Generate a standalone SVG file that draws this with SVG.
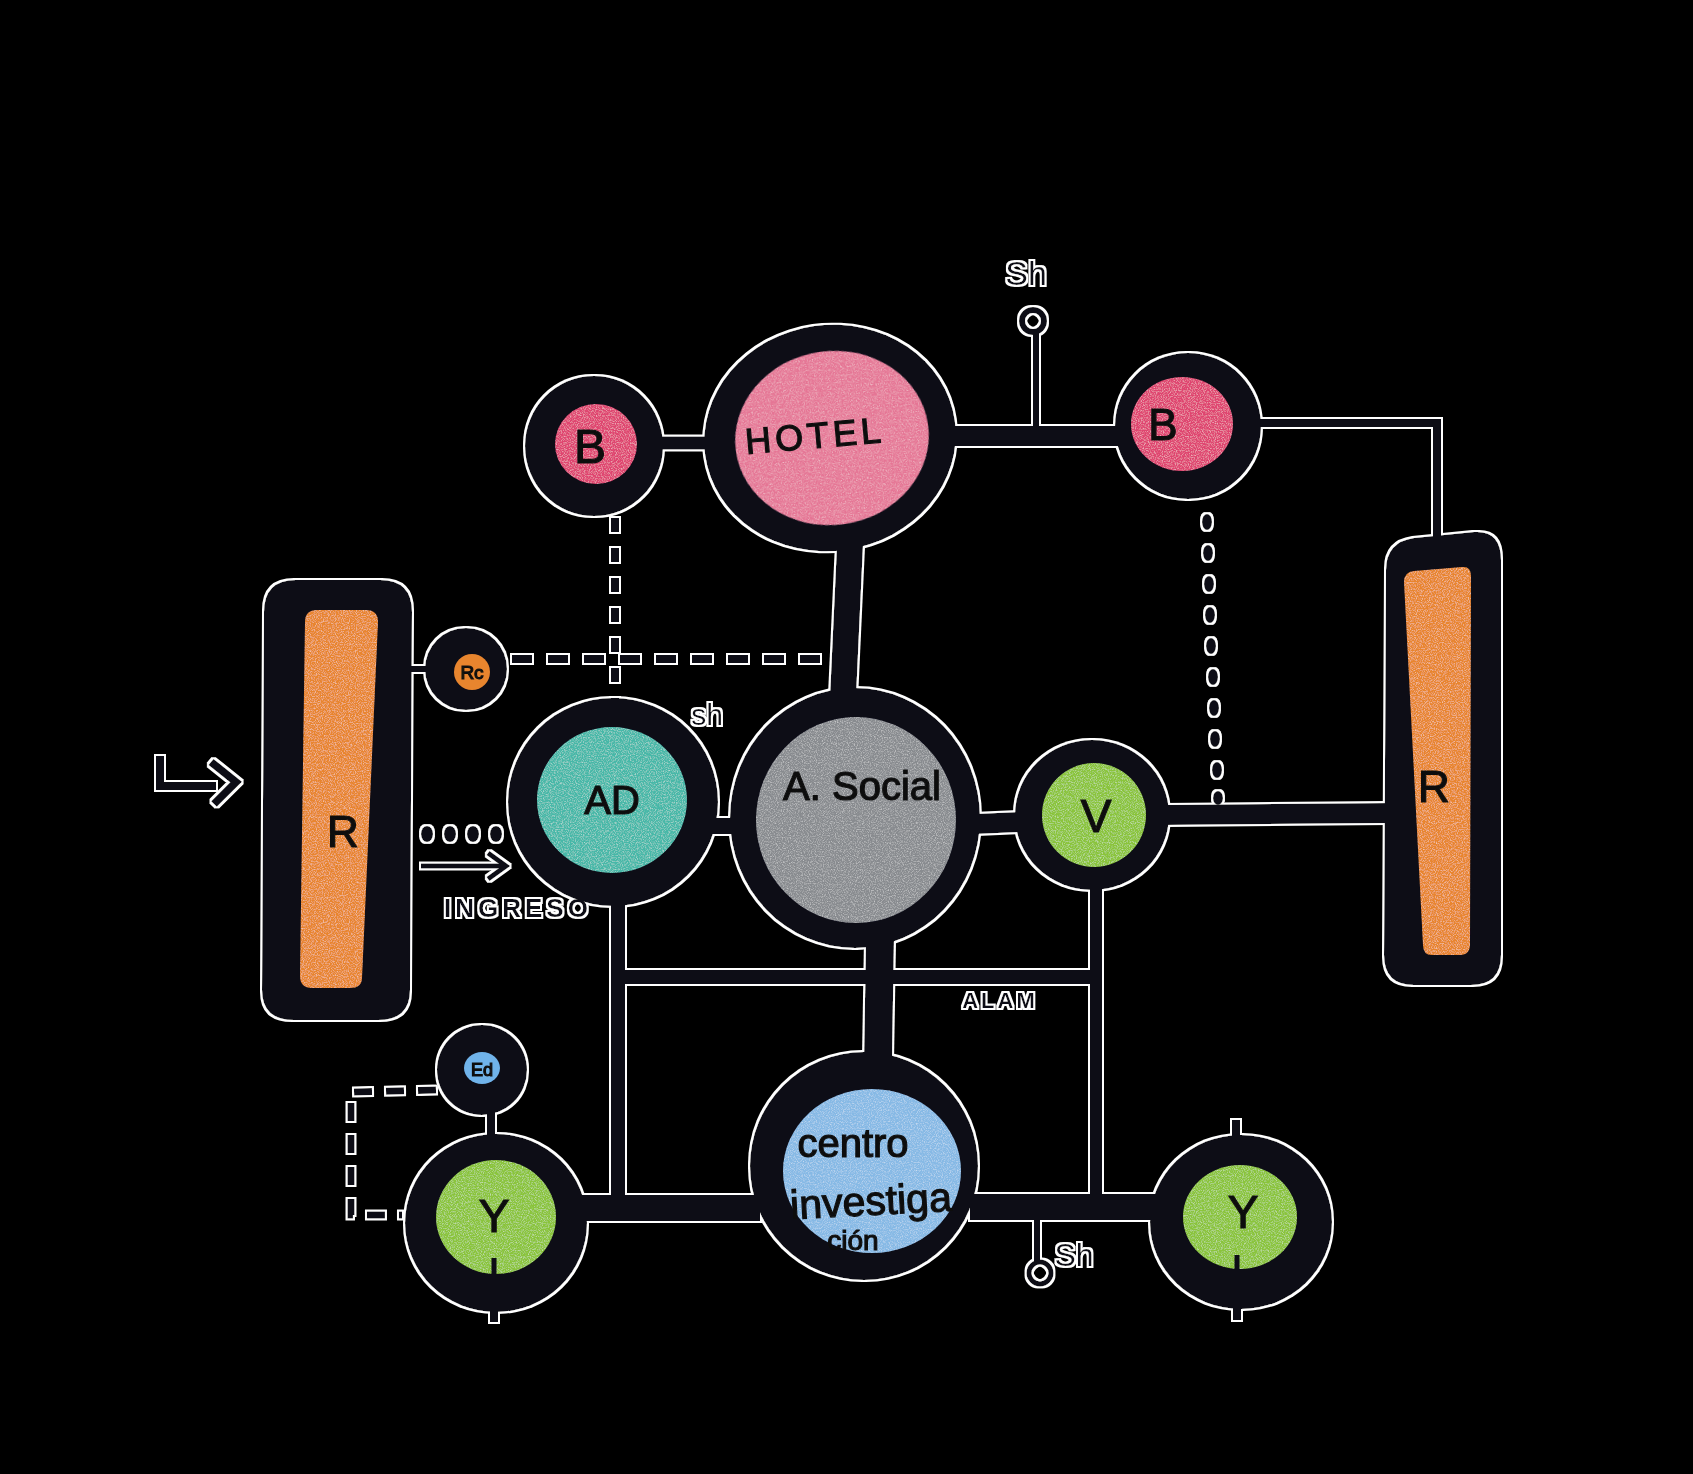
<svg xmlns="http://www.w3.org/2000/svg" width="1693" height="1474" viewBox="0 0 1693 1474">
<defs>
<filter id="halo" filterUnits="userSpaceOnUse" x="0" y="0" width="1693" height="1474">
<feMorphology in="SourceAlpha" operator="dilate" radius="2.2" result="d"/>
<feFlood flood-color="#ffffff" result="f"/>
<feComposite in="f" in2="d" operator="in" result="w"/>
<feMerge><feMergeNode in="w"/><feMergeNode in="SourceGraphic"/></feMerge>
</filter>
<filter id="grain" x="0" y="0" width="100%" height="100%">
<feTurbulence type="fractalNoise" baseFrequency="0.85" numOctaves="2" seed="7" result="n"/>
<feColorMatrix in="n" type="matrix" values="0 0 0 0 1  0 0 0 0 1  0 0 0 0 1  1.0 0 0 0 -0.45" result="w"/>
<feComposite in="w" in2="SourceGraphic" operator="in" result="t"/>
<feMerge><feMergeNode in="SourceGraphic"/><feMergeNode in="t"/></feMerge>
</filter>
</defs>
<style>
.ring{fill:#0c0c18}
.ln{stroke:#0c0c18;fill:none;stroke-linecap:butt;stroke-linejoin:miter}
.dot{fill:#0c0c18}
.lbl{font-family:"Liberation Sans",Arial,sans-serif;fill:#111;stroke:#111;stroke-width:1.2;text-anchor:middle}
.ann{font-family:"Liberation Sans",Arial,sans-serif;fill:#0c0c18;text-anchor:middle}
.pink1{fill:#df4570}
.pink2{fill:#e57594}
.orange{fill:#e8852f}
.teal{fill:#47b8a8}
.gray{fill:#888b8f}
.green{fill:#8ac43a}
.blue{fill:#86b9e5}
.tex{filter:url(#grain)}
</style>
<rect x="0" y="0" width="1693" height="1474" fill="#000"/>
<g filter="url(#halo)">
<g id="connectors">
<path class="ln" d="M655,443 L712,443" stroke-width="13"/>
<path class="ln" d="M950,436 L1122,436" stroke-width="20"/>
<path class="ln" d="M1036,333 L1036,436" stroke-width="6"/>
<circle class="ln" cx="1033" cy="321" r="11" stroke-width="6"/>
<path class="ln" d="M1255,423 L1437,423 L1437,542" stroke-width="8"/>
<path class="ln" d="M850,545 L843,697" stroke-width="26"/>
<path class="ln" d="M710,826 L736,826" stroke-width="16"/>
<path class="ln" d="M975,824 L1020,822" stroke-width="20"/>
<path class="ln" d="M1165,815 L1390,813" stroke-width="20"/>
<path class="ln" d="M408,669 L430,669" stroke-width="6"/>
<path class="ln" d="M618,900 L618,1200" stroke-width="14"/>
<path class="ln" d="M618,977 L1096,977" stroke-width="14"/>
<path class="ln" d="M880,940 L878,1060" stroke-width="28"/>
<path class="ln" d="M1096,886 L1096,1200" stroke-width="12"/>
<path class="ln" d="M580,1208 L760,1208" stroke-width="26"/>
<path class="ln" d="M970,1207 L1160,1207" stroke-width="26"/>
<path class="ln" d="M491,1110 L491,1142" stroke-width="8"/>
<path class="ln" d="M1037,1215 L1037,1262" stroke-width="6"/>
<circle class="ln" cx="1040" cy="1273" r="11" stroke-width="5"/>
<path class="ln" d="M1236,1120 L1236,1140" stroke-width="8"/>
<path class="ln" d="M1237,1305 L1237,1320" stroke-width="8"/>
<path class="ln" d="M494,1305 L494,1322" stroke-width="8"/>
<path class="ln" d="M512,659 L836,659" stroke-width="8" stroke-dasharray="20 16"/>
<path class="ln" d="M615,518 L615,708" stroke-width="8" stroke-dasharray="14 16"/>
<path class="ln" d="M436,1090 L351,1092 L351,1215 L402,1215" stroke-width="7" stroke-dasharray="18 14"/>
<ellipse class="dot" cx="427" cy="834" rx="6" ry="8"/>
<ellipse class="dot" cx="450" cy="834" rx="6" ry="8"/>
<ellipse class="dot" cx="473" cy="834" rx="6" ry="8"/>
<ellipse class="dot" cx="496" cy="834" rx="6" ry="8"/>
<ellipse class="dot" cx="1207" cy="522" rx="5" ry="8"/>
<ellipse class="dot" cx="1208" cy="553" rx="5" ry="8"/>
<ellipse class="dot" cx="1209" cy="584" rx="5" ry="8"/>
<ellipse class="dot" cx="1210" cy="615" rx="5" ry="8"/>
<ellipse class="dot" cx="1211" cy="646" rx="5" ry="8"/>
<ellipse class="dot" cx="1213" cy="677" rx="5" ry="8"/>
<ellipse class="dot" cx="1214" cy="708" rx="5" ry="8"/>
<ellipse class="dot" cx="1215" cy="739" rx="5" ry="8"/>
<ellipse class="dot" cx="1217" cy="770" rx="5" ry="8"/>
<ellipse class="dot" cx="1218" cy="798" rx="5" ry="7"/>
<path class="ln" d="M421,866 L502,866" stroke-width="5"/>
<path class="ln" d="M488,853 L506,866 L488,879" stroke-width="5"/>
<path class="ln" d="M160,756 L160,786 L216,786" stroke-width="8"/>
<path class="ln" d="M211,762 L236,782 L214,804" stroke-width="8"/>
</g>
<g id="node-b-left">
<ellipse class="ring" cx="594" cy="446" rx="69" ry="70"/>
<ellipse class="pink1 tex" cx="596" cy="444" rx="41" ry="40"/>
<text class="lbl" x="590" y="463" font-size="48">B</text>
</g>
<g id="node-hotel">
<ellipse class="ring" cx="830" cy="438" rx="126" ry="113" transform="rotate(-8 830 438)"/>
<ellipse class="pink2 tex" cx="832" cy="438" rx="97" ry="87" transform="rotate(-8 832 438)"/>
<text class="lbl" x="815" y="448" font-size="36" letter-spacing="4" transform="rotate(-5 815 436)">HOTEL</text>
</g>
<g id="node-b-right">
<ellipse class="ring" cx="1188" cy="426" rx="73" ry="73"/>
<ellipse class="pink1 tex" cx="1182" cy="424" rx="51" ry="47"/>
<text class="lbl" x="1163" y="440" font-size="44">B</text>
</g>
<g id="node-r-right">
<path class="ring" d="M1386,570 Q1386,542 1414,538 L1474,532 Q1501,530 1501,560 L1501,955 Q1501,985 1471,985 L1414,985 Q1384,985 1384,955 Z"/>
<path class="orange tex" d="M1404,582 Q1404,572 1414,571 L1462,567 Q1471,566 1471,576 L1470,944 Q1470,955 1460,955 L1432,955 Q1423,955 1423,945 Z"/>
<text class="lbl" x="1434" y="802" font-size="44">R</text>
</g>
<g id="node-v">
<ellipse class="ring" cx="1092" cy="815" rx="77" ry="75"/>
<ellipse class="green tex" cx="1094" cy="815" rx="52" ry="52"/>
<text class="lbl" x="1096" y="832" font-size="46">V</text>
</g>
<g id="node-a-social">
<ellipse class="ring" cx="855" cy="818" rx="125" ry="130"/>
<ellipse class="gray tex" cx="856" cy="820" rx="100" ry="103"/>
<text class="lbl" x="862" y="800" font-size="40">A. Social</text>
</g>
<g id="node-ad">
<ellipse class="ring" cx="613" cy="802" rx="105" ry="104"/>
<ellipse class="teal tex" cx="612" cy="800" rx="75" ry="73"/>
<text class="lbl" x="612" y="814" font-size="40">AD</text>
</g>
<g id="node-rc">
<circle class="ring" cx="466" cy="669" r="41"/>
<circle class="orange" cx="472" cy="672" r="18"/>
<text class="lbl" x="472" y="679" font-size="19" stroke-width="0.6">Rc</text>
</g>
<g id="node-r-left">
<path class="ring" d="M264,612 Q264,580 296,580 L380,580 Q412,580 412,612 L410,990 Q410,1020 378,1020 L294,1020 Q262,1020 262,990 Z"/>
<path class="orange tex" d="M305,622 Q305,610 317,610 L366,610 Q378,610 378,622 L362,978 Q362,988 350,988 L312,988 Q300,988 300,976 Z"/>
<text class="lbl" x="343" y="847" font-size="44">R</text>
</g>
<g id="node-centro">
<ellipse class="ring" cx="864" cy="1166" rx="114" ry="114"/>
<ellipse class="blue tex" cx="872" cy="1171" rx="89" ry="82"/>
<text class="lbl" x="853" y="1157" font-size="40">centro</text>
<text class="lbl" x="871" y="1215" font-size="41" transform="rotate(-3 871 1203)">investiga</text>
<text class="lbl" x="853" y="1250" font-size="28">ción</text>
</g>
<g id="node-ed">
<circle class="ring" cx="482" cy="1070" r="45"/>
<ellipse fill="#6fb3ea" cx="482" cy="1068" rx="18" ry="16"/>
<text class="lbl" x="482" y="1076" font-size="18" stroke-width="0.6">Ed</text>
</g>
<g id="node-y-left">
<ellipse class="ring" cx="496" cy="1223" rx="91" ry="89"/>
<ellipse class="green tex" cx="496" cy="1217" rx="60" ry="57"/>
<text class="lbl" x="494" y="1232" font-size="46">Y</text>
<path class="ln" d="M494,1258 L494,1274" stroke-width="5"/>
</g>
<g id="node-y-right">
<ellipse class="ring" cx="1241" cy="1222" rx="91" ry="87"/>
<ellipse class="green tex" cx="1240" cy="1217" rx="57" ry="52"/>
<text class="lbl" x="1243" y="1228" font-size="46">Y</text>
<path class="ln" d="M1237,1255 L1237,1270" stroke-width="5"/>
</g>
<g id="annotations">
<text class="ann" x="1026" y="285" font-size="34">Sh</text>
<text class="ann" x="707" y="725" font-size="30">sh</text>
<text class="ann" x="518" y="917" font-size="26" font-weight="bold" letter-spacing="4">INGRESO</text>
<text class="ann" x="1000" y="1008" font-size="22" font-weight="bold" letter-spacing="3">ALAM</text>
<text class="ann" x="1074" y="1266" font-size="32">Sh</text>
</g>
</g>
</svg>
